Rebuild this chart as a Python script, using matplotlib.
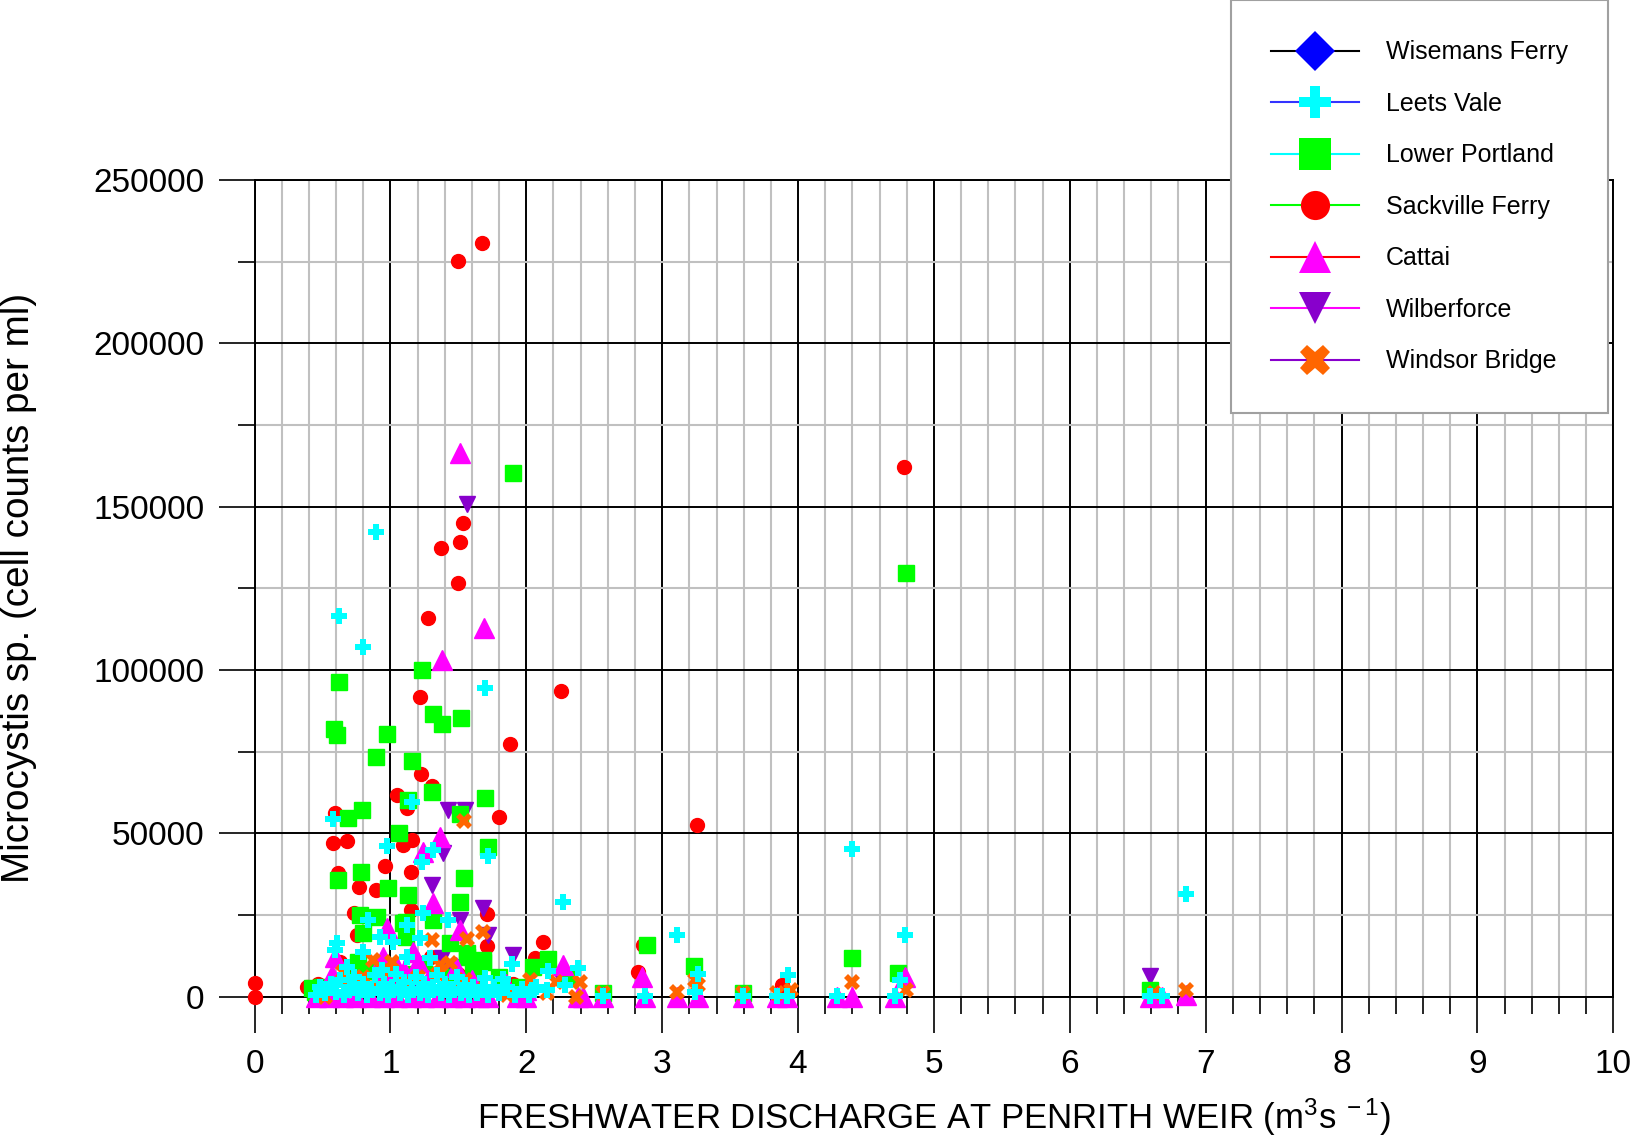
import matplotlib
matplotlib.use("Agg")
import matplotlib.pyplot as plt
from matplotlib.lines import Line2D
from matplotlib.ticker import MultipleLocator

plt.rcParams['font.family'] = ['Liberation Sans', 'DejaVu Sans']
plt.rcParams['mathtext.fontset'] = 'custom'
plt.rcParams['mathtext.rm'] = 'Liberation Sans'
plt.rcParams['mathtext.it'] = 'Liberation Sans'

# ---------------- data ----------------
series_names = ["Wisemans Ferry", "Leets Vale", "Lower Portland", "Sackville Ferry",
                "Cattai", "Wilberforce", "Windsor Bridge"]

wisemans_x = []
wisemans_y = []

leets_x = [0.892, 0.622, 0.796, 1.696, 1.720, 2.268, 4.399, 6.857, 1.157, 0.580,
           0.973, 1.311, 1.230, 1.242, 3.111, 4.787, 0.605, 0.592, 0.678, 0.837,
           0.923, 1.021, 0.800, 0.936, 1.120, 1.218, 1.426, 1.120, 1.291, 1.892,
           1.696, 1.831, 2.040, 2.150, 2.285, 2.162, 2.383, 2.567, 2.873, 3.266,
           3.241, 3.592, 3.843, 3.916, 3.928, 4.284, 4.750, 4.713, 6.590, 6.680,
           0.45, 0.48, 0.52, 0.56, 0.60, 0.63, 0.66, 0.70, 0.73, 0.76,
           0.80, 0.83, 0.86, 0.89, 0.92, 0.95, 0.98, 1.01, 1.04, 1.07,
           1.10, 1.13, 1.16, 1.19, 1.22, 1.25, 1.28, 1.31, 1.34, 1.37,
           1.40, 1.43, 1.46, 1.49, 1.52, 1.55, 1.58, 1.61, 1.64, 1.68,
           1.72, 1.76, 1.80, 1.86, 1.92, 1.97, 2.02, 2.07]
leets_y = [142400, 116400, 106900, 94400, 43100, 29100, 45100, 31500, 59700, 54300,
           46100, 44900, 41300, 25500, 18900, 18900, 16300, 14300, 9200, 23500,
           18400, 16800, 13800, 8200, 22000, 17900, 23500, 12200, 11800, 10000,
           5600, 5300, 2000, 2000, 3600, 8000, 8700, 300, 300, 6800,
           1500, 300, 300, 300, 6600, 300, 5100, 300, 300, 300,
           500, 3000, 1000, 4000, 1500, 5000, 500, 3000, 6000, 1000,
           4000, 500, 2500, 6500, 1000, 4000, 500, 3000, 7000, 1000,
           4500, 500, 2500, 6000, 1000, 4000, 500, 3000, 6500, 1000,
           4000, 500, 2500, 6000, 1000, 3500, 500, 3000, 1000, 2500,
           500, 3000, 1000, 3000, 500, 2500, 500, 3000]

portland_x = [1.900, 4.792, 1.230, 0.622, 1.311, 1.377, 1.520, 0.587, 0.605, 0.973,
              0.894, 1.161, 1.304, 1.127, 1.696, 0.690, 0.789, 1.512, 1.066, 1.720,
              0.617, 0.781, 0.985, 1.127, 1.542, 1.512, 0.800, 0.899, 0.776, 1.118,
              1.118, 1.316, 1.439, 1.561, 1.684, 0.764, 1.095, 1.561, 1.610, 1.684,
              2.162, 2.052, 2.309, 2.886, 3.234, 4.399, 4.737, 6.590, 0.420, 0.448,
              2.567, 3.592, 0.50, 0.70, 0.85, 1.00, 1.15, 1.25, 1.45, 1.60, 1.80, 1.95]
portland_y = [160300, 129600, 100000, 96200, 86500, 83500, 85400, 81900, 80100, 80400,
              73500, 72000, 62800, 60200, 60700, 54600, 57000, 55800, 50000, 45900,
              35700, 38100, 33400, 31100, 36300, 29100, 19400, 24500, 25000, 23000,
              18400, 23500, 16300, 13300, 10700, 10700, 22500, 12200, 8200, 11200,
              11500, 9000, 5600, 15700, 9400, 11900, 7200, 2000, 2600, 1500,
              1000, 1000, 3000, 5000, 8000, 9500, 7000, 10000, 6000, 4000, 6000, 3000]

sackville_x = [1.676, 1.497, 4.779, 1.532, 1.370, 1.510, 1.497, 1.279, 2.253, 1.218,
               1.880, 1.225, 1.304, 1.051, 1.120, 1.801, 0.592, 3.254, 0.580, 0.678,
               1.095, 1.157, 0.960, 1.150, 0.617, 0.771, 0.894, 1.150, 1.713, 0.730,
               0.752, 1.713, 2.125, 2.064, 0.629, 2.824, 3.884, 0.000, 0.000, 0.384,
               0.469, 2.860, 0.55, 0.75, 0.95, 1.05, 1.30, 1.50, 1.62, 1.90]
sackville_y = [230700, 225300, 162000, 145000, 137300, 139300, 126600, 115900, 93600, 91700,
               77300, 68100, 64600, 61800, 57700, 54900, 56300, 52600, 47200, 47700,
               46400, 48000, 40000, 38100, 37800, 33700, 32700, 26500, 25300, 25500,
               18900, 15500, 16800, 11800, 10700, 7700, 3600, 4100, 0, 2900,
               3900, 15800, 2000, 8000, 10000, 5000, 12000, 7000, 9000, 4000]

cattai_x = [1.513, 1.689, 1.377, 1.365, 1.238, 1.311, 0.973, 1.512, 0.592, 0.568,
            0.948, 1.169, 2.272, 2.849, 4.787, 0.973, 1.205, 1.046,
            0.45, 0.55, 0.65, 0.75, 0.85, 0.95, 1.05, 1.15, 1.25, 1.35,
            1.45, 1.55, 1.65, 1.72, 1.93, 2.00, 2.38, 2.42, 2.567, 2.873,
            3.111, 3.266, 3.592, 3.843, 3.916, 4.284, 4.399, 4.713, 6.590, 6.680,
            6.857, 0.90, 1.10, 1.28, 1.48, 1.60, 1.85, 2.00]
cattai_y = [166400, 112800, 103100, 49000, 44400, 28600, 20900, 20400, 12200, 6600,
            12200, 13800, 9700, 6100, 6100, 5600, 10700, 9200,
            0, 0, 0, 0, 0, 0, 0, 0, 0, 0,
            0, 0, 0, 0, 0, 0, 0, 0, 0, 0,
            0, 0, 0, 0, 0, 0, 0, 0, 0, 0,
            500, 4000, 8000, 5000, 9000, 5000, 4000, 2000]

wilberforce_x = [1.566, 1.426, 1.549, 1.389, 1.309, 1.684, 1.512, 1.720, 1.900, 1.377,
                 6.590, 1.440, 0.95, 1.20, 1.60, 2.25]
wilberforce_y = [150800, 57200, 57200, 43900, 34200, 27100, 23500, 18900, 12800, 11800,
                 6200, 9000, 6000, 4000, 8000, 6000]

windsor_x = [1.541, 1.684, 1.304, 1.566, 0.874, 1.439, 0.654, 0.678, 2.027, 2.220,
             2.395, 2.366, 3.111, 3.241, 3.266, 3.946, 4.399, 4.794, 6.857, 6.620,
             1.856, 2.150, 1.680, 1.010, 1.365, 0.52,
             0.50, 0.58, 0.72, 0.80, 0.90, 1.00, 1.10, 1.20, 1.25, 1.35, 1.45, 1.55, 1.62,
             2.567, 3.592, 3.843]
windsor_y = [53800, 19900, 17400, 17600, 11200, 10200, 7700, 4600, 5100, 4600,
             4600, 0, 1500, 5100, 3600, 2000, 4600, 2000, 2200, 1000,
             500, 1000, 1500, 10700, 9700, 0,
             1000, 3000, 2500, 6000, 3000, 8000, 4000, 6000, 2000, 7000, 3000, 5000, 2000,
             1000, 1000, 1000]

x_ticks = [0, 1, 2, 3, 4, 5, 6, 7, 8, 9, 10]
y_ticks = [0, 50000, 100000, 150000, 200000, 250000]

# ---------------- styles ----------------
C_CYAN = '#00FFFF'
C_GREEN = '#00FF00'
C_RED = '#FF0000'
C_MAG = '#FF00FF'
C_PURP = '#8800CC'
C_ORANGE = '#FF6600'
C_BLUE = '#0000FF'

fig = plt.figure(figsize=(16.37, 11.43), dpi=100)
ax = fig.add_axes([0.1555, 0.1280, 0.8300, 0.7145])

kw = dict(linestyle='none', clip_on=False)
ax.plot(wisemans_x, wisemans_y, marker='D', ms=10, mfc=C_BLUE, mec=C_BLUE, zorder=3, **kw)
ax.plot(sackville_x, sackville_y, marker='o', ms=10, mfc=C_RED, mec=C_RED, zorder=4, **kw)
ax.plot(wilberforce_x, wilberforce_y, marker='v', ms=12, mfc=C_PURP, mec=C_PURP, zorder=5, **kw)
ax.plot(portland_x, portland_y, marker='s', ms=11.5, mfc=C_GREEN, mec=C_GREEN, zorder=6, **kw)
ax.plot(cattai_x, cattai_y, marker='^', ms=14, mfc=C_MAG, mec=C_MAG, zorder=7, **kw)
ax.plot(windsor_x, windsor_y, marker='X', ms=11, mfc=C_ORANGE, mec=C_ORANGE, mew=0, zorder=8, **kw)
ax.plot(leets_x, leets_y, marker='P', ms=11, mfc=C_CYAN, mec=C_CYAN, mew=0, zorder=9, **kw)

ax.set_xlim(0, 10)
ax.set_ylim(0, 250000)
ax.set_xticks(x_ticks)
ax.set_xticklabels([str(v) for v in x_ticks])
ax.set_yticks(y_ticks)
ax.set_yticklabels([str(v) for v in y_ticks])
ax.xaxis.set_minor_locator(MultipleLocator(0.2))
ax.yaxis.set_minor_locator(MultipleLocator(25000))

ax.grid(which='minor', color='#C0C0C0', linewidth=1.5)
ax.grid(which='major', color='black', linewidth=1.4)
ax.set_axisbelow(True)

for s in ax.spines.values():
    s.set_color('black')
    s.set_linewidth(1.4)

ax.tick_params(which='major', direction='out', length=26, width=1.2, labelsize=24,
               pad=10, color='black')
ax.tick_params(which='minor', direction='out', length=12, width=1.2, color='black')
ax.tick_params(axis='x', which='major', pad=12)

ax.set_xlabel(r'FRESHWATER DISCHARGE AT PENRITH WEIR (m$^{3}$s$^{\ -1}$)', fontsize=25)
ax.xaxis.set_label_coords(0.5, -0.122)
ax.set_ylabel('Microcystis sp. (cell counts per ml)', fontsize=27.8)
ax.yaxis.set_label_coords(-0.160, 0.5)

# legend
line_cols = ['black', '#3333FF', C_CYAN, C_GREEN, C_RED, C_MAG, C_PURP]
mk = ['D', 'P', 's', 'o', '^', 'v', 'X']
mcol = [C_BLUE, C_CYAN, C_GREEN, C_RED, C_MAG, C_PURP, C_ORANGE]
msz = [20, 23, 23, 21, 23, 23, 22]
handles = [Line2D([0], [0], color=lc, lw=1.5, marker=m, markersize=s, mfc=mc, mec=mc, mew=0)
           for lc, m, mc, s in zip(line_cols, mk, mcol, msz)]
leg = fig.legend(handles, series_names, loc='upper right', bbox_to_anchor=(0.9900, 1.0105),
                 fontsize=18, frameon=True, fancybox=False, edgecolor='#A0A0A0',
                 framealpha=1.0, facecolor='white',
                 handlelength=3.5, handletextpad=1.1, labelspacing=1.1, borderpad=1.6)
leg.get_frame().set_linewidth(1.5)
leg.set_zorder(20)

fig.savefig('out.png', dpi=100)
